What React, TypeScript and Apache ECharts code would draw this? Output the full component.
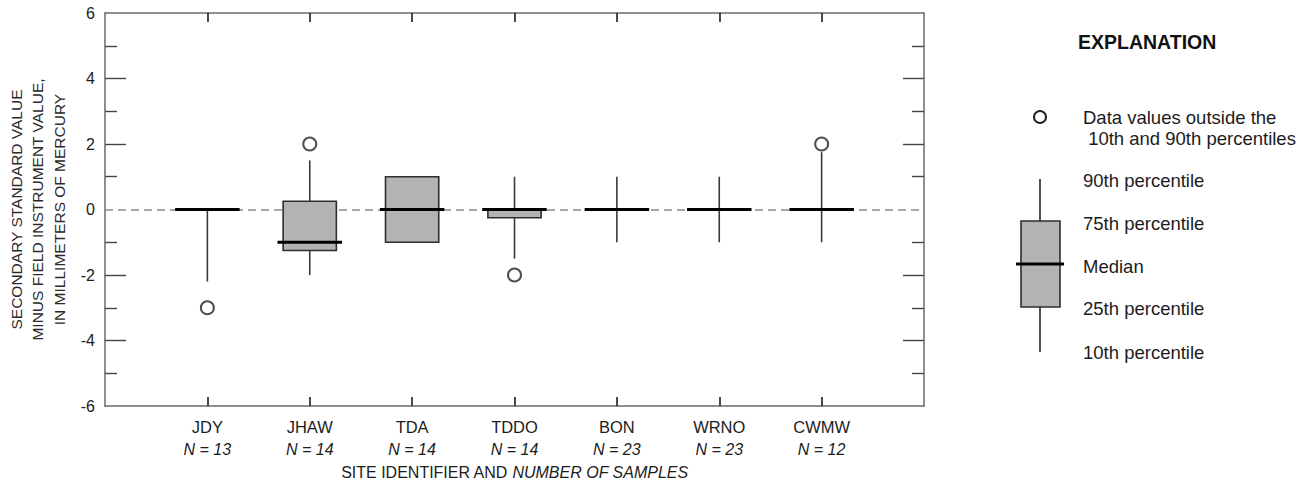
import React, { useEffect, useRef } from "react";
import * as echarts from "echarts";

// ---- data ----
const sites = ["JDY", "JHAW", "TDA", "TDDO", "BON", "WRNO", "CWMW"];
const sampleCounts = [13, 14, 14, 14, 23, 23, 12];
const p10 = [-2.2, -2, -1, -1.5, -1, -1, -1];
const p25 = [0, -1.25, -1, -0.25, 0, 0, 0];
const medians = [0, -1, 0, 0, 0, 0, 0];
const p75 = [0, 0.25, 1, 0, 0, 0, 0];
const p90 = [0, 1.5, 1, 1, 1, 1, 1.75];
const outlierSites = ["JDY", "JHAW", "TDDO", "CWMW"];
const outlierValues = [-3, 2, -2, 2];
const yMajorTicks = [-4, -2, 2, 4];
const legendLabels = [
  "90th percentile",
  "75th percentile",
  "Median",
  "25th percentile",
  "10th percentile",
];

const FONT = "'Liberation Sans', Arial, sans-serif";
const AXIS_GRAY = "#6a6a6a";
const INK = "#1c1c1c";

export default function App() {
  const ref = useRef<HTMLDivElement>(null);

  useEffect(() => {
    if (!ref.current) return;
    const chart = echarts.init(ref.current, null, { renderer: "svg" });

    const catPositions = sites.map((_, i) => i + 1);
    const boxData = sites.map((_, i) => [i + 1, p10[i], p25[i], medians[i], p75[i], p90[i]]);
    const outlierData = outlierSites.map((s, i) => [sites.indexOf(s) + 1, outlierValues[i]]);

    const xAxisBase = {
      type: "value",
      min: 0,
      max: 8,
      interval: 1,
      splitLine: { show: false },
      axisLine: { show: true, onZero: false, lineStyle: { color: AXIS_GRAY, width: 1.5 } },
      axisTick: {
        show: true,
        inside: true,
        length: 9,
        customValues: catPositions,
        lineStyle: { color: INK, width: 1.6 },
      },
    };
    const yAxisBase = {
      type: "value",
      min: -6,
      max: 6,
      interval: 2,
      splitLine: { show: false },
      axisLine: { show: true, onZero: false, lineStyle: { color: AXIS_GRAY, width: 1.5 } },
      axisTick: {
        show: true,
        inside: true,
        length: 21,
        customValues: yMajorTicks,
        lineStyle: { color: "#444", width: 1.4 },
      },
      minorTick: {
        show: true,
        splitNumber: 2,
        length: 12,
        lineStyle: { color: "#444", width: 1.4 },
      },
    };

    const legendX = 1040;
    const legendY = [180, 223, 266, 308, 352];

    const option: any = {
      animation: false,
      backgroundColor: "#fff",
      textStyle: { fontFamily: FONT },
      grid: { left: 105, right: 388, top: 13, bottom: 78, outerBoundsMode: "none", containLabel: false },
      xAxis: [
        {
          ...xAxisBase,
          position: "bottom",
          axisLabel: {
            show: true,
            margin: 9,
            customValues: catPositions,
            formatter: (v: number) => {
              const i = Math.round(v) - 1;
              if (i < 0 || i >= sites.length) return "";
              return `{s|${sites[i]}}\n{n|N = ${sampleCounts[i]}}`;
            },
            rich: {
              s: { fontFamily: FONT, fontSize: 16.5, color: INK, lineHeight: 23 },
              n: { fontFamily: FONT, fontSize: 16, fontStyle: "italic", color: INK, lineHeight: 23 },
            },
          },
          name: "SITE IDENTIFIER AND {i|NUMBER OF SAMPLES}",
          nameLocation: "middle",
          nameGap: 58,
          nameTextStyle: {
            fontFamily: FONT,
            fontSize: 16,
            color: INK,
            rich: { i: { fontFamily: FONT, fontSize: 16, fontStyle: "italic", color: INK } },
          },
        },
        {
          ...xAxisBase,
          position: "top",
          axisLabel: { show: false },
        },
      ],
      yAxis: [
        {
          ...yAxisBase,
          position: "left",
          axisLabel: { show: true, fontFamily: FONT, fontSize: 16, color: INK, margin: 10 },
          name: "SECONDARY STANDARD VALUE\nMINUS FIELD INSTRUMENT VALUE,\nIN MILLIMETERS OF MERCURY",
          nameLocation: "middle",
          nameGap: 34,
          nameTextStyle: { fontFamily: FONT, fontSize: 15.5, color: "#2a2a2a", lineHeight: 21.5 },
        },
        {
          ...yAxisBase,
          position: "right",
          axisLabel: { show: false },
        },
      ],
      series: [
        {
          type: "line",
          data: [],
          z: 1,
          markLine: {
            silent: true,
            z: 1,
            symbol: ["none", "none"],
            label: { show: false },
            lineStyle: { type: [8, 5], color: "#8c8c8c", width: 1.6 },
            data: [{ yAxis: 0 }],
          },
        },
        {
          type: "custom",
          z: 10,
          data: boxData,
          encode: { x: 0, y: [1, 2, 3, 4, 5] },
          renderItem: (params: any, api: any) => {
            const x = api.value(0);
            const lo = api.coord([x, api.value(1)]);
            const q1 = api.coord([x, api.value(2)]);
            const med = api.coord([x, api.value(3)]);
            const q3 = api.coord([x, api.value(4)]);
            const hi = api.coord([x, api.value(5)]);
            const unit = api.size([1, 0])[0];
            const boxW = unit * 0.52;
            const medW = unit * 0.63;
            const children: any[] = [
              {
                type: "line",
                shape: { x1: lo[0], y1: lo[1], x2: hi[0], y2: hi[1] },
                style: { stroke: "#3a3a3a", lineWidth: 1.6 },
              },
            ];
            if (Math.abs(q1[1] - q3[1]) > 0.5) {
              children.push({
                type: "rect",
                shape: { x: q3[0] - boxW / 2, y: q3[1], width: boxW, height: q1[1] - q3[1] },
                style: { fill: "#b3b3b3", stroke: "#2e2e2e", lineWidth: 1.6 },
              });
            }
            children.push({
              type: "line",
              shape: { x1: med[0] - medW / 2, y1: med[1], x2: med[0] + medW / 2, y2: med[1] },
              style: { stroke: "#000", lineWidth: 3.2 },
            });
            return { type: "group", children };
          },
        },
        {
          type: "scatter",
          z: 11,
          data: outlierData,
          symbol: "circle",
          symbolSize: 13,
          itemStyle: { color: "#fff", borderColor: "#222", borderWidth: 2 },
        },
      ],
      graphic: [
        {
          type: "text",
          x: 1078,
          y: 42,
          style: {
            text: "EXPLANATION",
            fontFamily: FONT,
            fontWeight: "bold",
            fontSize: 19.5,
            fill: "#111",
            verticalAlign: "middle",
          },
        },
        {
          type: "circle",
          shape: { cx: legendX, cy: 117, r: 6 },
          style: { fill: "#fff", stroke: "#222", lineWidth: 2 },
        },
        {
          type: "text",
          x: 1083,
          y: 106.5,
          style: {
            text: "Data values outside the\n 10th and 90th percentiles",
            fontFamily: FONT,
            fontSize: 18.5,
            lineHeight: 21,
            fill: INK,
            verticalAlign: "top",
          },
        },
        ...legendLabels.map((t, i) => ({
          type: "text",
          x: 1083,
          y: legendY[i],
          style: { text: t, fontFamily: FONT, fontSize: 18.5, fill: INK, verticalAlign: "middle" },
        })),
        {
          type: "line",
          shape: { x1: legendX, y1: 179, x2: legendX, y2: 352 },
          style: { stroke: "#2a2a2a", lineWidth: 1.6 },
        },
        {
          type: "rect",
          shape: { x: 1021, y: 221, width: 39, height: 86 },
          style: { fill: "#b3b3b3", stroke: "#2e2e2e", lineWidth: 1.6 },
        },
        {
          type: "line",
          shape: { x1: 1016, y1: 264, x2: 1064, y2: 264 },
          style: { stroke: "#000", lineWidth: 3 },
        },
      ],
    };

    chart.setOption(option);
    return () => chart.dispose();
  }, []);

  return (
    <div
      ref={ref}
      style={{ position: "fixed", left: 0, top: 0, width: 1312, height: 484, background: "#fff" }}
    />
  );
}
